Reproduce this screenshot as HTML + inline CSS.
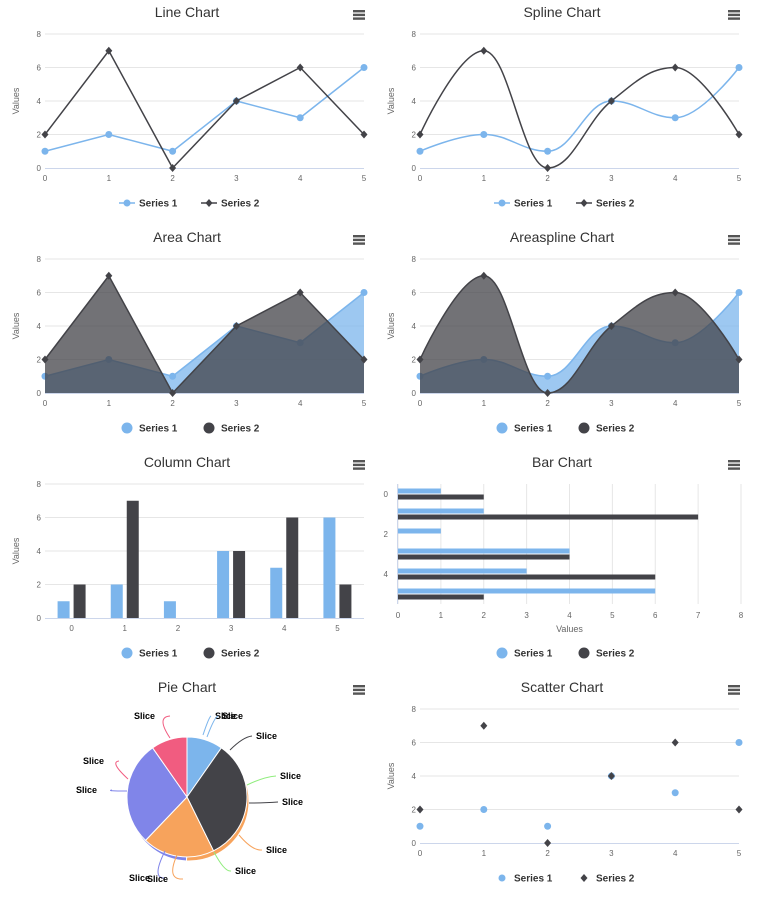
<!DOCTYPE html>
<html><head><meta charset="utf-8">
<style>
html,body{margin:0;padding:0;background:#fff;}
svg{display:block;font-family:"Liberation Sans",sans-serif;}
</style></head>
<body>
<svg id="root" width="763" height="913" xmlns="http://www.w3.org/2000/svg"></svg>
<script>
const categories = [0,1,2,3,4,5];
const series1 = [1,2,1,4,3,6];
const series2 = [2,7,0,4,6,2];
const yTicks = [0,2,4,6,8];
const barTicks = [0,1,2,3,4,5,6,7,8];
const pieValues = [1,3.4,2,2.9,1];
const pieColors = ['#7cb5ec','#434348','#f7a35c','#8085e9','#f15c80'];
const pieLabels = ['Slice','Slice','Slice','Slice','Slice','Slice','Slice','Slice','Slice','Slice','Slice','Slice'];

const NS='http://www.w3.org/2000/svg';
const root=document.getElementById('root');
const C1='#7cb5ec', C2='#434348';
function mk(tag,attrs,parent){const e=document.createElementNS(NS,tag);for(const k in attrs)e.setAttribute(k,attrs[k]);(parent||root).appendChild(e);return e;}
function txt(s,attrs,parent){const e=mk('text',attrs,parent);e.textContent=s;return e;}

function panel(ox,oy,title,name){
  const g=mk('g',{transform:`translate(${ox},${oy})`});
  
  
  const t=txt(title,{x:187,y:17,'text-anchor':'middle','font-size':14,fill:'#333'},g);
  
  
  const m=mk('g',{},g);
  
  
  for(let i=0;i<3;i++) mk('rect',{x:353,y:10+i*3.7,width:12,height:2.4,fill:'#555'},m);
  return g;
}
function marker(g,x,y,color,diamond,r){
  r=r||3.5;
  if(diamond) return mk('path',{d:`M${x} ${y-r-0.5}L${x+r} ${y}L${x} ${y+r+0.5}L${x-r} ${y}Z`,fill:color},g);
  return mk('circle',{cx:x,cy:y,r:r,fill:color},g);
}
function legend(g,y,cx,type){
  const items=[['Series 1',C1,false],['Series 2',C2,true]];
  const xs=[cx-60,cx+22];
  items.forEach((it,i)=>{
    const lg=mk('g',{},g);
    
    
    const x=xs[i];
    if(type==='line'){mk('line',{x1:x-8,y1:y,x2:x+8,y2:y,stroke:it[1],'stroke-width':1.5},lg);marker(lg,x,y,it[1],it[2],3.5);}
    else if(type==='scatter'){marker(lg,x,y,it[1],it[2],3.5);}
    else mk('circle',{cx:x,cy:y,r:5.5,fill:it[1]},lg);
    txt(it[0],{x:x+12,y:y+3.5,'font-size':10,'font-weight':'bold',fill:'#333'},lg);
  });
}
function axes(g,x0,x1,y0,y1,opts){
  const sx=v=>x0+(v-categories[0])/(categories[categories.length-1]-categories[0])*(x1-x0);
  const sy=v=>y0-(v/8)*(y0-y1);
  yTicks.forEach(t=>{
    if(t>0) mk('line',{x1:x0,x2:x1,y1:sy(t),y2:sy(t),stroke:'#e6e6e6','stroke-width':1},g);
    const l=txt(String(t),{x:x0-4,y:sy(t)+3,'text-anchor':'end','font-size':8,fill:'#666'},g);
    
    
  });
  mk('line',{x1:x0,x2:x1,y1:y0+0.5,y2:y0+0.5,stroke:'#ccd6eb','stroke-width':1},g);
  const yt=txt('Values',{x:0,y:0,'text-anchor':'middle','font-size':9,fill:'#666',transform:`translate(${x0-26},${(y0+y1)/2}) rotate(-90)`},g);
  
  
  return {sx,sy};
}
function xLabels(g,pos,y){
  categories.forEach((c,i)=>{
    const l=txt(String(c),{x:pos(i),y:y,'text-anchor':'middle','font-size':8,fill:'#666'},g);
    
    
  });
}
function splinePath(pts){
  let d=`M${pts[0][0]} ${pts[0][1]}`;
  const sm=1.5,den=2.5;
  const ctrl=pts.map((p,i)=>{
    if(i===0||i===pts.length-1) return null;
    const [lx,ly]=pts[i-1],[nx,ny]=pts[i+1],[x,y]=p;
    let lcx=(sm*x+lx)/den,lcy=(sm*y+ly)/den,rcx=(sm*x+nx)/den,rcy=(sm*y+ny)/den;
    const corr=((rcy-lcy)*(rcx-x))/(rcx-lcx)+y-rcy;
    lcy+=corr;rcy+=corr;
    if(lcy>ly&&lcy>y){lcy=Math.max(ly,y);rcy=2*y-lcy;}
    else if(lcy<ly&&lcy<y){lcy=Math.min(ly,y);rcy=2*y-lcy;}
    if(rcy>ny&&rcy>y){rcy=Math.max(ny,y);lcy=2*y-rcy;}
    else if(rcy<ny&&rcy<y){rcy=Math.min(ny,y);lcy=2*y-rcy;}
    return {l:[lcx,lcy],r:[rcx,rcy]};
  });
  for(let i=1;i<pts.length;i++){
    const a=ctrl[i-1]?ctrl[i-1].r:pts[i-1];
    const b=ctrl[i]?ctrl[i].l:pts[i];
    d+=`C${a[0]} ${a[1]} ${b[0]} ${b[1]} ${pts[i][0]} ${pts[i][1]}`;
  }
  return d;
}
function lineChart(ox,oy,title,name,spline,area){
  const g=panel(ox,oy,title,name);
  const x0=45,x1=364,y0=168,y1=34;
  const {sx,sy}=axes(g,x0,x1,y0,y1);
  xLabels(g,i=>sx(categories[i]),181);
  [[series1,C1,false],[series2,C2,true]].forEach((s,si)=>{
    const sg=mk('g',{},g);
    
    
    const pts=s[0].map((v,i)=>[sx(categories[i]),sy(v)]);
    const d=spline?splinePath(pts):'M'+pts.map(p=>p[0]+' '+p[1]).join('L');
    if(area) mk('path',{d:d+`L${pts[pts.length-1][0]} ${y0}L${pts[0][0]} ${y0}Z`,fill:s[1],'fill-opacity':0.75},sg);
    mk('path',{d:d,fill:'none',stroke:s[1],'stroke-width':1.5},sg);
    pts.forEach(p=>{const m=marker(sg,p[0],p[1],s[1],s[2]);});
  });
  legend(g,203,187,area?'area':'line');
}
lineChart(0,0,'Line Chart','line-chart',false,false);
lineChart(375,0,'Spline Chart','spline-chart',true,false);
lineChart(0,225,'Area Chart','area-chart',false,true);
lineChart(375,225,'Areaspline Chart','areaspline-chart',true,true);

// Column chart
(function(){
  const g=panel(0,450,'Column Chart','column-chart');
  const x0=45,x1=364,y0=168,y1=34;
  const {sy}=axes(g,x0,x1,y0,y1);
  const cw=(x1-x0)/categories.length;
  const cx=i=>x0+cw*(i+0.5);
  xLabels(g,cx,181);
  categories.forEach((c,i)=>{
    [[series1,C1,-14],[series2,C2,2]].forEach((s,si)=>{
      const v=s[0][i];
      const r=mk('rect',{x:cx(i)+s[2],y:sy(v),width:12,height:y0-sy(v),fill:s[1]},g);
      
      
    });
  });
  legend(g,203,187,'area');
})();

// Bar chart
(function(){
  const g=panel(375,450,'Bar Chart','bar-chart');
  const x0=23,x1=366,y0=34,y1=154;
  const sx=v=>x0+v/8*(x1-x0);
  barTicks.forEach(t=>{
    mk('line',{x1:sx(t),x2:sx(t),y1:y0,y2:y1,stroke:'#e6e6e6'},g);
    txt(String(t),{x:sx(t),y:168,'text-anchor':'middle','font-size':8,fill:'#666'},g);
  });
  mk('line',{x1:x0-0.5,x2:x0-0.5,y1:y0,y2:y1,stroke:'#ccd6eb'},g);
  const xt=txt('Values',{x:(x0+x1)/2,y:182,'text-anchor':'middle','font-size':9,fill:'#666'},g);
  
  
  const ch=(y1-y0)/categories.length;
  const cy=i=>y0+ch*(i+0.5);
  categories.forEach((c,i)=>{
    if(i%2===0) txt(String(c),{x:x0-10,y:cy(i)+3,'text-anchor':'end','font-size':8,fill:'#666'},g);
    [[series1,C1,-5.5],[series2,C2,0.5]].forEach((s,si)=>{
      const r=mk('rect',{x:x0,y:cy(i)+s[2],width:sx(s[0][i])-x0,height:5,fill:s[1]},g);
      
      
    });
  });
  legend(g,203,187,'area');
})();

// Pie chart
(function(){
  const g=panel(0,675,'Pie Chart','pie-chart');
  const cx=187,cy=122,r=60;
  const tot=pieValues.reduce((a,b)=>a+b,0);
  function arcs(ox,oy,rr,rot,colors){
    let a=rot;
    pieValues.forEach((v,i)=>{
      const b=a+v/tot*Math.PI*2;
      const p=(t)=>[ox+rr*Math.sin(t),oy-rr*Math.cos(t)];
      const [x1,y1]=p(a),[x2,y2]=p(b);
      const s=mk('path',{d:`M${ox} ${oy}L${x1} ${y1}A${rr} ${rr} 0 ${b-a>Math.PI?1:0} 1 ${x2} ${y2}Z`,fill:colors[i],stroke:'#fff','stroke-width':1},g);
      
      
      a=b;
    });
  }
  arcs(cx+2,cy+4,60,0.5,['#f7a35c','#f7a35c','#8085e9','#f15c80','#f15c80']);
  arcs(cx,cy,r,0,pieColors);
  const labs=[[215,44,'#7cb5ec',203,60],[222,44,'#7cb5ec',207,62],[256,64,'#434348',230,75],[280,104,'#90ed7d',247,110],[282,130,'#434348',249,128],[266,178,'#f7a35c',239,160],[235,199,'#90ed7d',214,177],[142,44,'#f15c80',170,63],[91,89,'#f15c80',128,104],[84,118,'#8085e9',127,116],[137,206,'#8085e9',165,176],[155,207,'#f7a35c',177,180]];
  labs.forEach((l,i)=>{
    mk('path',{d:`M${l[3]} ${l[4]}Q${(l[0]+l[3])/2} ${l[1]-2} ${l[0]+(l[0]>cx?-4:28)} ${l[1]-3}`,fill:'none',stroke:l[2],'stroke-width':1},g);
    const t=txt(pieLabels[i],{x:l[0]+(l[0]<cx?-8:0),y:l[1],'font-size':9,'font-weight':'bold',fill:'#000'},g);
    
    
  });
})();

// Scatter chart
(function(){
  const g=panel(375,675,'Scatter Chart','scatter-chart');
  const x0=45,x1=364,y0=168,y1=34;
  const {sx,sy}=axes(g,x0,x1,y0,y1);
  xLabels(g,i=>sx(categories[i]),181);
  [[series1,C1,false],[series2,C2,true]].forEach((s,si)=>{
    s[0].forEach((v,i)=>{
      const m=marker(g,sx(categories[i]),sy(v),s[1],s[2]);
      
      
    });
  });
  legend(g,203,187,'scatter');
})();
</script>
</body></html>
